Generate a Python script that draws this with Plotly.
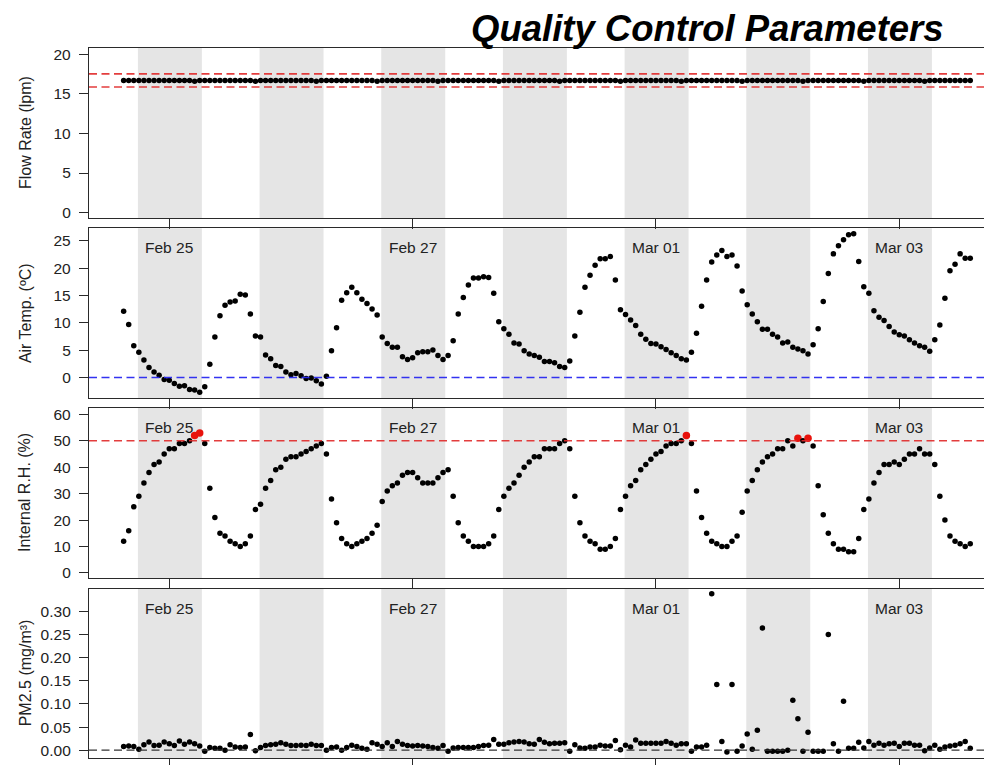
import plotly.graph_objects as go
import pandas as pd

# ---------------- data ----------------
start_time = "2015-02-24 15:00"
n_points = 168
times = pd.date_range(start_time, periods=n_points, freq="h")

date_labels = ["Feb 25", "Feb 27", "Mar 01", "Mar 03"]
date_ticks = ["2015-02-25 00:00", "2015-02-27 00:00", "2015-03-01 00:00", "2015-03-03 00:00"]

night_starts = ["2015-02-24 17:49", "2015-02-25 17:49", "2015-02-26 17:49", "2015-02-27 17:49",
                "2015-02-28 17:49", "2015-03-01 17:49", "2015-03-02 17:49"]
night_ends = ["2015-02-25 06:26", "2015-02-26 06:26", "2015-02-27 06:26", "2015-02-28 06:26",
              "2015-03-01 06:26", "2015-03-02 06:26", "2015-03-03 06:26"]

flow_rate = [
    16.7, 16.7, 16.7, 16.7, 16.7, 16.7, 16.7, 16.7, 16.7, 16.7, 16.7, 16.7,
    16.7, 16.7, 16.6, 16.7, 16.7, 16.7, 16.7, 16.7, 16.7, 16.7, 16.7, 16.7,
    16.7, 16.7, 16.6, 16.7, 16.7, 16.7, 16.7, 16.7, 16.7, 16.7, 16.7, 16.7,
    16.7, 16.7, 16.6, 16.7, 16.7, 16.7, 16.7, 16.7, 16.7, 16.7, 16.7, 16.7,
    16.7, 16.7, 16.6, 16.7, 16.7, 16.7, 16.7, 16.7, 16.7, 16.7, 16.7, 16.7,
    16.7, 16.7, 16.6, 16.7, 16.7, 16.7, 16.7, 16.7, 16.7, 16.7, 16.7, 16.7,
    16.7, 16.7, 16.6, 16.7, 16.7, 16.7, 16.7, 16.7, 16.7, 16.7, 16.7, 16.7,
    16.7, 16.7, 16.6, 16.7, 16.7, 16.7, 16.7, 16.7, 16.7, 16.7, 16.7, 16.7,
    16.7, 16.7, 16.6, 16.7, 16.7, 16.7, 16.7, 16.7, 16.7, 16.7, 16.7, 16.7,
    16.7, 16.7, 16.6, 16.7, 16.7, 16.7, 16.7, 16.7, 16.7, 16.7, 16.7, 16.7,
    16.7, 16.7, 16.6, 16.7, 16.7, 16.7, 16.7, 16.7, 16.7, 16.7, 16.7, 16.7,
    16.7, 16.7, 16.6, 16.7, 16.7, 16.7, 16.7, 16.7, 16.7, 16.7, 16.7, 16.7,
    16.7, 16.7, 16.6, 16.7, 16.7, 16.7, 16.7, 16.7, 16.7, 16.7, 16.7, 16.7,
    16.7, 16.7, 16.6, 16.7, 16.7, 16.7, 16.7, 16.7, 16.7, 16.7, 16.7, 16.7,
]

air_temp = [
    12.1, 9.7, 5.8, 4.6, 3.2, 1.8, 1.0, 0.4, -0.4, -0.5, -1.1, -1.6,
    -1.5, -2.2, -2.3, -2.7, -1.7, 2.4, 7.4, 11.3, 13.2, 13.8, 14.0, 15.2,
    15.1, 11.6, 7.6, 7.4, 4.1, 3.4, 2.2, 2.0, 1.0, 0.5, 0.7, 0.3,
    -0.2, -0.1, -0.6, -1.2, 0.2, 4.9, 9.1, 14.1, 15.5, 16.5, 15.5, 14.3,
    13.5, 12.5, 11.4, 7.4, 6.2, 5.5, 5.5, 3.8, 3.3, 3.6, 4.5, 4.7,
    4.7, 5.0, 4.0, 3.3, 4.0, 6.7, 11.6, 14.6, 16.9, 18.2, 18.2, 18.4,
    18.3, 15.4, 10.2, 8.9, 7.9, 6.3, 6.1, 4.9, 4.3, 4.0, 3.7, 2.9,
    2.9, 2.7, 2.0, 1.8, 3.0, 7.6, 11.9, 16.5, 18.7, 20.5, 21.7, 21.7,
    22.1, 17.8, 12.4, 11.5, 10.5, 9.5, 7.9, 7.0, 6.2, 6.1, 5.6, 5.1,
    4.5, 4.0, 3.4, 3.2, 4.6, 8.1, 13.0, 17.8, 21.1, 22.4, 23.2, 22.1,
    22.4, 20.4, 15.8, 13.3, 11.6, 10.2, 8.8, 8.8, 7.9, 7.4, 6.3, 6.5,
    5.5, 5.2, 4.9, 4.3, 6.0, 8.9, 13.9, 19.0, 22.6, 24.1, 25.2, 26.1,
    26.3, 21.2, 16.6, 15.4, 12.2, 11.0, 10.4, 9.3, 8.3, 7.8, 7.6, 6.9,
    6.3, 5.8, 5.5, 4.8, 6.9, 9.6, 14.5, 19.5, 20.7, 22.6, 21.8, 21.8,
]

internal_rh = [
    12, 16, 25, 29, 34, 38, 41, 42, 45, 47, 47, 49,
    49, 50, 52, 53, 49, 32, 21, 15, 14, 12, 11, 10,
    11, 14, 24, 26, 32, 35, 39, 40, 43, 44, 44, 45,
    46, 47, 48, 49, 45, 28, 19, 13, 11, 10, 11, 12,
    13, 15, 18, 27, 31, 33, 34, 37, 38, 38, 36, 34,
    34, 34, 36, 38, 39, 29, 19, 14, 12, 10, 10, 10,
    11, 14, 24, 29, 32, 34, 37, 40, 42, 44, 44, 47,
    47, 47, 49, 50, 47, 29, 19, 14, 12, 11, 9, 9,
    10, 13, 24, 29, 33, 35, 39, 41, 43, 45, 46, 48,
    49, 49, 50, 52, 49, 31, 21, 15, 12, 11, 10, 10,
    12, 14, 23, 31, 35, 39, 42, 44, 45, 47, 47, 50,
    48, 51, 50, 51, 48, 33, 22, 15, 11, 9, 9, 8,
    8, 13, 24, 28, 34, 38, 41, 41, 42, 41, 43, 45,
    45, 47, 45, 45, 41, 29, 20, 14, 12, 11, 10, 11,
]

pm25 = [
    0.008, 0.009, 0.008, 0.002, 0.012, 0.018, 0.010, 0.011, 0.018, 0.014, 0.010, 0.020,
    0.013, 0.018, 0.014, 0.009, -0.002, 0.006, 0.004, 0.004, 0.000, 0.012, 0.007, 0.006,
    0.007, 0.034, -0.001, 0.006, 0.010, 0.012, 0.013, 0.016, 0.013, 0.010, 0.010, 0.011,
    0.010, 0.013, 0.010, 0.010, 0.000, 0.006, 0.007, 0.000, 0.006, 0.011, 0.008, 0.004,
    0.002, 0.016, 0.013, 0.008, 0.016, 0.008, 0.019, 0.013, 0.010, 0.009, 0.010, 0.009,
    0.008, 0.006, 0.004, 0.010, -0.002, 0.005, 0.006, 0.006, 0.006, 0.006, 0.008, 0.010,
    0.011, 0.023, 0.013, 0.013, 0.016, 0.018, 0.019, 0.018, 0.014, 0.013, 0.023, 0.017,
    0.014, 0.015, 0.015, 0.016, -0.002, 0.012, 0.005, 0.004, 0.007, 0.007, 0.011, 0.009,
    0.009, 0.021, 0.001, 0.011, 0.007, 0.022, 0.015, 0.015, 0.015, 0.015, 0.015, 0.019,
    0.015, 0.011, 0.014, 0.014, -0.002, 0.007, 0.007, 0.011, 0.338, 0.142, 0.019, -0.004,
    0.142, -0.002, 0.009, 0.035, 0.002, 0.043, 0.264, -0.002, -0.002, -0.002, -0.002, 0.000,
    0.108, 0.068, -0.002, 0.039, -0.002, -0.002, -0.002, 0.250, 0.014, -0.002, 0.106, 0.004,
    0.004, 0.017, 0.005, 0.019, 0.011, 0.015, 0.011, 0.014, 0.015, 0.008, 0.015, 0.015,
    0.011, 0.011, -0.001, 0.005, 0.011, 0.002, 0.007, 0.009, 0.011, 0.014, 0.019, 0.004,
]

flow_limits = [15.865, 17.535]
rh_limit = 50
temp_ref = 0
pm_ref = 0

y_titles = ["Flow Rate (lpm)", "Air Temp. (ºC)", "Internal R.H. (%)", "PM2.5 (mg/m³)"]
y_ticks = [[0, 5, 10, 15, 20], [0, 5, 10, 15, 20, 25], [0, 10, 20, 30, 40, 50, 60],
           [0.0, 0.05, 0.10, 0.15, 0.20, 0.25, 0.30]]

# ---------------- styling / layout ----------------
# The page body adds an 8px offset; layout numbers below are in screen pixels
OFF = 8
W, H = 992, 765
SCR_L, SCR_T, SCR_B = 89, 48, 758.5          # plot area edges on screen
ML = SCR_L - OFF
MT = SCR_T - OFF
MB = H - (SCR_B - OFF)
MR = 0
plot_h = H - MT - MB
plot_w = W - ML - MR
FONT = "Liberation Sans, Arial, Helvetica, sans-serif"
AX = "#2a2a2a"

def frac(py):
    return (SCR_B - py) / plot_h

domains = [[frac(218.3), 1.0], [frac(398.3), frac(228.3)], [frac(578.3), frac(408.3)], [0.0, frac(589)]]
y_ranges = [[-0.71, 20.8], [-3.77, 27.3], [-1.9, 62.4], [-0.0168, 0.349]]
x_range = ["2015-02-24 08:10", "2015-03-03 19:52"]

fig = go.Figure()

series = [flow_rate, air_temp, internal_rh, pm25]
for k, vals in enumerate(series):
    n = k + 1
    if k == 2:
        colors = ["#e8120c" if v > rh_limit else "#000000" for v in vals]
        sizes = [7.5 if v > rh_limit else 5.5 for v in vals]
    else:
        colors = "#000000"
        sizes = 5.5
    fig.add_trace(go.Scatter(
        x=times, y=vals, mode="markers",
        marker=dict(color=colors, size=sizes, opacity=1, line=dict(width=0)),
        xaxis=f"x{n}" if n > 1 else "x", yaxis=f"y{n}" if n > 1 else "y",
        showlegend=False, hoverinfo="x+y",
    ))

layout = dict(
    width=W, height=H,
    margin=dict(l=ML, r=MR, t=MT, b=MB, pad=0, autoexpand=False),
    paper_bgcolor="white", plot_bgcolor="rgba(0,0,0,0)",
    font=dict(family=FONT, color="#222", size=15.5),
    showlegend=False,
)

shapes = []
annotations = []
for k in range(4):
    n = k + 1
    xs = "" if n == 1 else str(n)
    layout[f"xaxis{xs}"] = dict(
        domain=[0, 1], anchor=f"y{xs}", range=x_range, type="date",
        tickvals=date_ticks, ticks="outside", ticklen=10, tickwidth=1.2, tickcolor=AX,
        showticklabels=False, showline=True, mirror=True, linecolor=AX, linewidth=1.3,
        showgrid=False, zeroline=False, automargin=False,
        **({} if n == 1 else {"matches": "x"}),
    )
    layout[f"yaxis{xs}"] = dict(
        domain=domains[k], anchor=f"x{xs}", range=y_ranges[k],
        tickvals=y_ticks[k], ticks="outside", ticklen=9, tickwidth=1.2, tickcolor=AX,
        ticklabelstandoff=5, automargin=False,
        tickformat=".2f" if k == 3 else None,
        tickfont=dict(size=15.5, color="#222", family=FONT),
        showline=True, mirror=False, linecolor=AX, linewidth=1.3,
        showgrid=False, zeroline=False,
    )
    # night bands
    for s, e in zip(night_starts, night_ends):
        shapes.append(dict(type="rect", xref=f"x{xs}", yref=f"y{xs} domain",
                           x0=s, x1=e, y0=0, y1=1, fillcolor="#e5e5e5",
                           line=dict(width=0), layer="below"))
    # y-axis titles
    annotations.append(dict(text=y_titles[k], xref="paper", yref=f"y{xs} domain",
                            x=(25 - SCR_L) / plot_w, y=0.5, textangle=-90,
                            xanchor="center", yanchor="middle", showarrow=False,
                            font=dict(size=16, color="#222", family=FONT)))
    # date labels in panels 2-4
    if k >= 1:
        for lab, t in zip(date_labels, date_ticks):
            annotations.append(dict(text=lab, xref=f"x{xs}", yref=f"y{xs} domain",
                                    x=t, y=1 - 19.5 / 170, xanchor="center", yanchor="middle",
                                    showarrow=False,
                                    font=dict(size=15.5, color="#222", family=FONT)))

dash = "8px,4.5px"
for lim in flow_limits:
    shapes.append(dict(type="line", xref="x domain", yref="y", x0=0, x1=1, y0=lim, y1=lim,
                       line=dict(color="rgba(224,40,40,0.9)", width=1.6, dash=dash)))
shapes.append(dict(type="line", xref="x2 domain", yref="y2", x0=0, x1=1, y0=temp_ref, y1=temp_ref,
                   line=dict(color="rgba(40,40,240,0.95)", width=1.6, dash=dash)))
shapes.append(dict(type="line", xref="x3 domain", yref="y3", x0=0, x1=1, y0=rh_limit, y1=rh_limit,
                   line=dict(color="rgba(224,40,40,0.9)", width=1.6, dash=dash)))
shapes.append(dict(type="line", xref="x4 domain", yref="y4", x0=0, x1=1, y0=pm_ref, y1=pm_ref,
                   line=dict(color="#333", width=1.3, dash=dash)))

annotations.append(dict(text="<b><i>Quality Control Parameters</i></b>", xref="paper", yref="paper",
                        x=(946 - SCR_L) / plot_w, y=1 + 19.5 / plot_h,
                        xanchor="right", yanchor="middle", showarrow=False,
                        font=dict(size=36.5, color="black", family=FONT)))

layout["shapes"] = shapes
layout["annotations"] = annotations
fig.update_layout(**layout)

fig.write_html("out.html")
